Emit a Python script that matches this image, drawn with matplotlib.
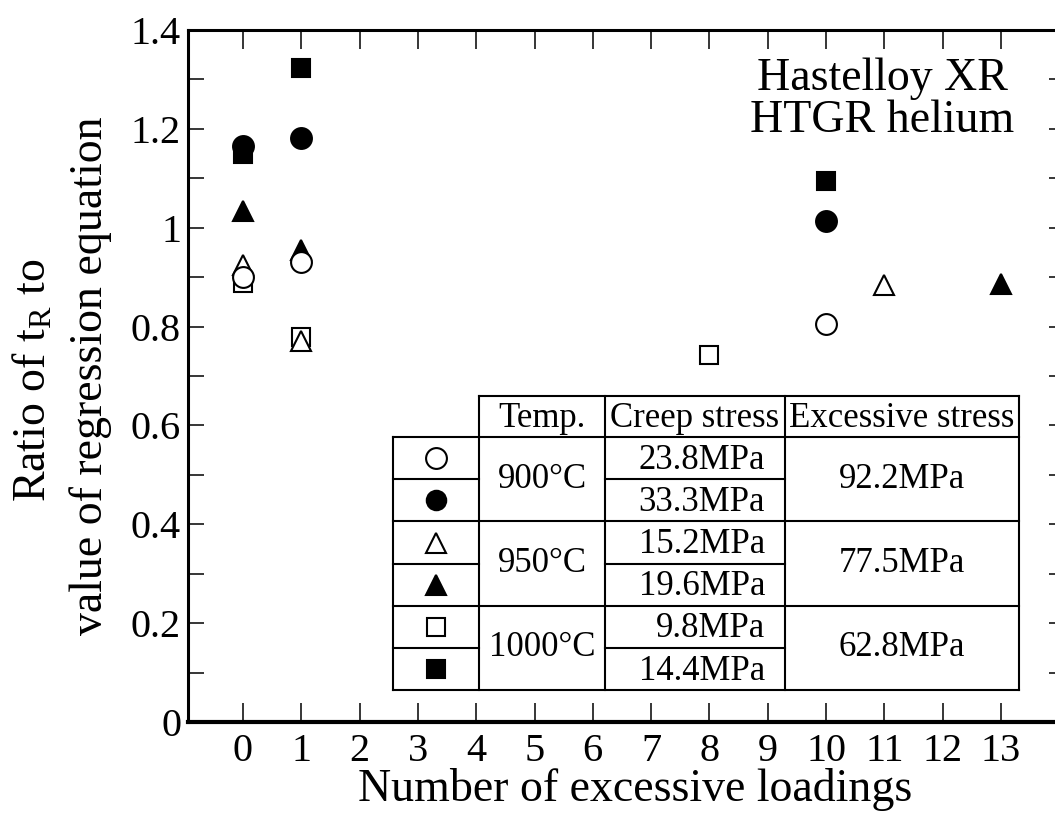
import matplotlib
matplotlib.use("Agg")
from matplotlib import pyplot as plt
from matplotlib.ticker import MultipleLocator

plt.rcParams['font.family'] = ['Liberation Serif', 'DejaVu Serif']
plt.rcParams['mathtext.fontset'] = 'custom'
plt.rcParams['mathtext.rm'] = 'Liberation Serif'

# data: x = number of excessive loadings, y = ratio
circle_open_x = [0, 1, 10]
circle_open_y = [0.900, 0.930, 0.805]
circle_fill_x = [0, 1, 10]
circle_fill_y = [1.165, 1.181, 1.013]
tri_open_x = [0, 1, 11]
tri_open_y = [0.925, 0.770, 0.884]
tri_fill_x = [0, 1, 13]
tri_fill_y = [1.034, 0.955, 0.886]
sq_open_x = [0, 1, 8]
sq_open_y = [0.888, 0.778, 0.742]
sq_fill_x = [0, 1, 10]
sq_fill_y = [1.150, 1.323, 1.094]

x_ticks = list(range(14))
y_ticks = [0, 0.2, 0.4, 0.6, 0.8, 1.0, 1.2, 1.4]
y_tick_labels = ["0", "0.2", "0.4", "0.6", "0.8", "1", "1.2", "1.4"]

# legend table contents
headers = ["Temp.", "Creep stress", "Excessive stress"]
temps = ["900°C", "950°C", "1000°C"]
creep = ["23.8MPa", "33.3MPa", "15.2MPa", "19.6MPa", "9.8MPa", "14.4MPa"]
excess = ["92.2MPa", "77.5MPa", "62.8MPa"]

W, H = 1055, 814
fig = plt.figure(figsize=(W / 100, H / 100), dpi=100)

# axes box in pixels: left spine 188, top 30, bottom 722, right beyond the edge
ax = fig.add_axes([188 / W, (H - 722) / H, (1065 - 188) / W, (722 - 30) / H])
ax.set_xlim((188 - 243) / 58.3, (1065 - 243) / 58.3)
ax.set_ylim(0, 1.4)

style = dict(linestyle="none", color="black", markeredgewidth=1.5)
ax.plot(sq_fill_x, sq_fill_y, marker="s", markersize=13.5, **style)
ax.plot(circle_fill_x, circle_fill_y, marker="o", markersize=15, **style)
ax.plot(tri_fill_x, tri_fill_y, marker="^", markersize=15, **style)
ax.plot(sq_open_x, sq_open_y, marker="s", markersize=13.5, markerfacecolor="white", **style)
ax.plot(tri_open_x, tri_open_y, marker="^", markersize=15, markerfacecolor="white", **style)
ax.plot(circle_open_x, circle_open_y, marker="o", markersize=15, markerfacecolor="white", **style)

ax.set_xticks(x_ticks)
ax.set_xticklabels([str(v) for v in x_ticks])
ax.set_yticks(y_ticks)
ax.set_yticklabels(y_tick_labels)
ax.yaxis.set_minor_locator(MultipleLocator(0.1))
ax.tick_params(axis="x", which="both", direction="in", top=True, length=14, width=1.1,
               labelsize=29, pad=8)
ax.tick_params(axis="y", which="both", direction="in", right=True, length=11.5, width=1.1,
               labelsize=29, pad=5)
for side in ["left", "top"]:
    ax.spines[side].set_linewidth(2.2)
ax.spines["bottom"].set_linewidth(3)
ax.spines["right"].set_linewidth(2.2)

fig.text(635 / W, (H - 801) / H, "Number of excessive loadings", fontsize=33,
         ha="center", va="baseline")
fig.text(46 / W, 1 - 380 / H, r"Ratio of $\mathrm{t_R}$ to", fontsize=33, rotation=90,
         rotation_mode="anchor", ha="center", va="baseline")
fig.text(102 / W, 1 - 376 / H, "value of regression equation", fontsize=33, rotation=90,
         rotation_mode="anchor", ha="center", va="baseline")

fig.text(882 / W, 1 - 100 / H, "Hastelloy XR\nHTGR helium", fontsize=33,
         ha="center", va="center", linespacing=1.0)

# legend table, drawn on an overlay in pixel units
tab = fig.add_axes([0, 0, 1, 1], zorder=5)
tab.set_xlim(0, W)
tab.set_ylim(H, 0)
tab.axis("off")
tab.patch.set_visible(False)

col_x = [393, 479, 605, 785, 1019]
head_top = 396
row_top = 437
row_h = 42.2
rows_y = [row_top + row_h * i for i in range(7)]
lw = 1.5

tab.fill_between([col_x[1], col_x[4]], head_top, rows_y[-1], color="white", zorder=0)
tab.fill_between([col_x[0], col_x[1]], row_top, rows_y[-1], color="white", zorder=0)
tab.plot([col_x[1], col_x[4]], [head_top, head_top], color="black", lw=lw)
for i, yy in enumerate(rows_y):
    if i % 2 == 0:
        tab.plot([col_x[0], col_x[4]], [yy, yy], color="black", lw=lw)
    else:
        tab.plot([col_x[0], col_x[1]], [yy, yy], color="black", lw=lw)
        tab.plot([col_x[2], col_x[3]], [yy, yy], color="black", lw=lw)
tab.plot([col_x[0], col_x[0]], [row_top, rows_y[-1]], color="black", lw=lw)
for cx in col_x[1:]:
    tab.plot([cx, cx], [head_top, rows_y[-1]], color="black", lw=lw)

fs = 25
for j, h in enumerate(headers):
    tab.text((col_x[j + 1] + col_x[j + 2]) / 2, (head_top + row_top) / 2 + 2, h,
             fontsize=fs, ha="center", va="center")
for g in range(3):
    yc = (rows_y[2 * g] + rows_y[2 * g + 2]) / 2
    tab.text((col_x[1] + col_x[2]) / 2, yc, temps[g], fontsize=fs, ha="center", va="center")
    tab.text((col_x[3] + col_x[4]) / 2, yc, excess[g], fontsize=fs, ha="center", va="center")
for r in range(6):
    yc = (rows_y[r] + rows_y[r + 1]) / 2 + 2
    tab.text(765, yc, creep[r], fontsize=fs, ha="right", va="center")

sym_x = (col_x[0] + col_x[1]) / 2
symbols = [("o", "white", 15), ("o", "black", 14), ("^", "white", 15),
           ("^", "black", 15), ("s", "white", 13), ("s", "black", 12.5)]
for r, (m, fc, ms) in enumerate(symbols):
    yc = (rows_y[r] + rows_y[r + 1]) / 2
    tab.plot([sym_x], [yc], marker=m, markersize=ms, markerfacecolor=fc,
             markeredgecolor="black", markeredgewidth=1.5, linestyle="none")

fig.savefig("out.png", dpi=100)
